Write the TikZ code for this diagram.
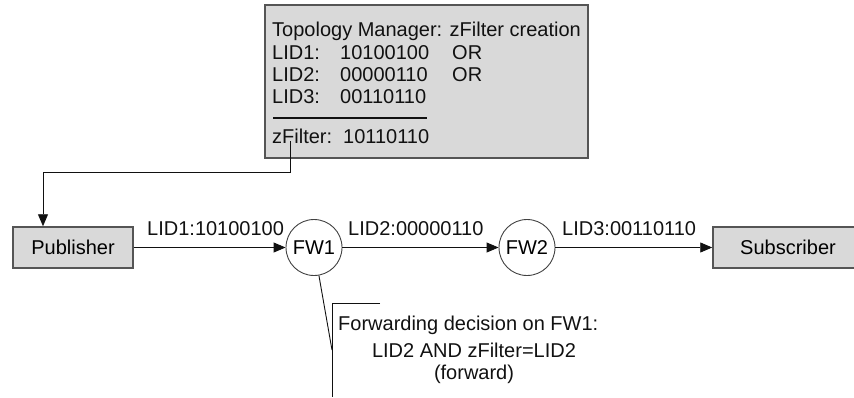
\documentclass[tikz,border=0pt]{standalone}
\usepackage{fontspec}
\setmainfont{Liberation Sans}
\usetikzlibrary{arrows.meta}
\definecolor{boxfill}{HTML}{D9D9D9}
\definecolor{boxline}{HTML}{555555}
\definecolor{ink}{HTML}{111111}
\begin{document}
\begin{tikzpicture}[x=1pt,y=-1pt,
  font=\fontsize{20}{22}\selectfont,
  box/.style={draw=boxline, fill=boxfill, line width=1.5pt, inner sep=0pt},
  fw/.style={draw=ink!80, circle, minimum size=56pt, inner sep=0pt, line width=0.9pt, fill=white},
  txt/.style={anchor=base west, inner sep=0pt, text=ink},
  ctxt/.style={anchor=base, inner sep=0pt, text=ink},
  conn/.style={line width=0.9pt, draw=ink},
  arr/.style={conn, -{Triangle[length=12pt,width=10pt]}},
]
\useasboundingbox (0,0) rectangle (854,397);
\clip (0,0) rectangle (854,397);

% Topology manager box
\node[box, minimum width=323pt, minimum height=153pt] (tm) at (426.5,81.5) {};
\node[txt] (t0) at (272,36) {Topology Manager: zFilter creation};
\node[txt] (l1) at (272,59) {LID1:};
\node[txt] (v1) at (340,59) {10100100};
\node[txt] (o1) at (452,59) {OR};
\node[txt] (l2) at (272,81) {LID2:};
\node[txt] (v2) at (340,81) {00000110};
\node[txt] (o2) at (452,81) {OR};
\node[txt] (l3) at (272,103) {LID3:};
\node[txt] (v3) at (340,103) {00110110};
\coordinate (rl) at (273,118);
\coordinate (rr) at (427,118);
\draw[line width=1.5pt, draw=ink] (rl) -- (rr);
\node[txt] (zl) at (272,143) {zFilter:};
\node[txt] (zv) at (343,143) {10110110};

% Main chain
\node[box, minimum width=120pt, minimum height=41pt] (pub) at (73,247.5) {Publisher};
\node[box, minimum width=150pt, minimum height=41pt] (sub) at (788,247.5) {Subscriber};
\node[fw] (fw1) at (314,247.5) {FW1};
\node[fw] (fw2) at (527,247.5) {FW2};

\draw[arr] (pub.east) -- (fw1.west);
\draw[arr] (fw1.east) -- (fw2.west);
\draw[arr] (fw2.east) -- (sub.west);

\node[txt] (lab1) at (147,235) {LID1:10100100};
\node[txt] (lab2) at (348,235) {LID2:00000110};
\node[txt] (lab3) at (562,235) {LID3:00110110};

% zFilter to publisher
\coordinate (zf) at (290,141);
\coordinate (c1) at (290,172);
\coordinate (c2) at (43,172);
\draw[arr] (zf) -- (c1) -- (c2) -- (c2 |- pub.north);

% Callout
\coordinate (bt) at (380,303);
\coordinate (bc) at (332,303);
\coordinate (bb) at (332,397);
\coordinate (bm) at (332,350);
\draw[conn] (bt) -- (bc) -- (bb);
\draw[conn] (fw1) -- (bm);
\node[txt] (cd) at (338,330) {Forwarding decision on FW1:};
\node[ctxt] (cl) at (474,357) {LID2 AND zFilter=LID2};
\node[ctxt] (cf) at (474,379) {(forward)};
\end{tikzpicture}
\end{document}
